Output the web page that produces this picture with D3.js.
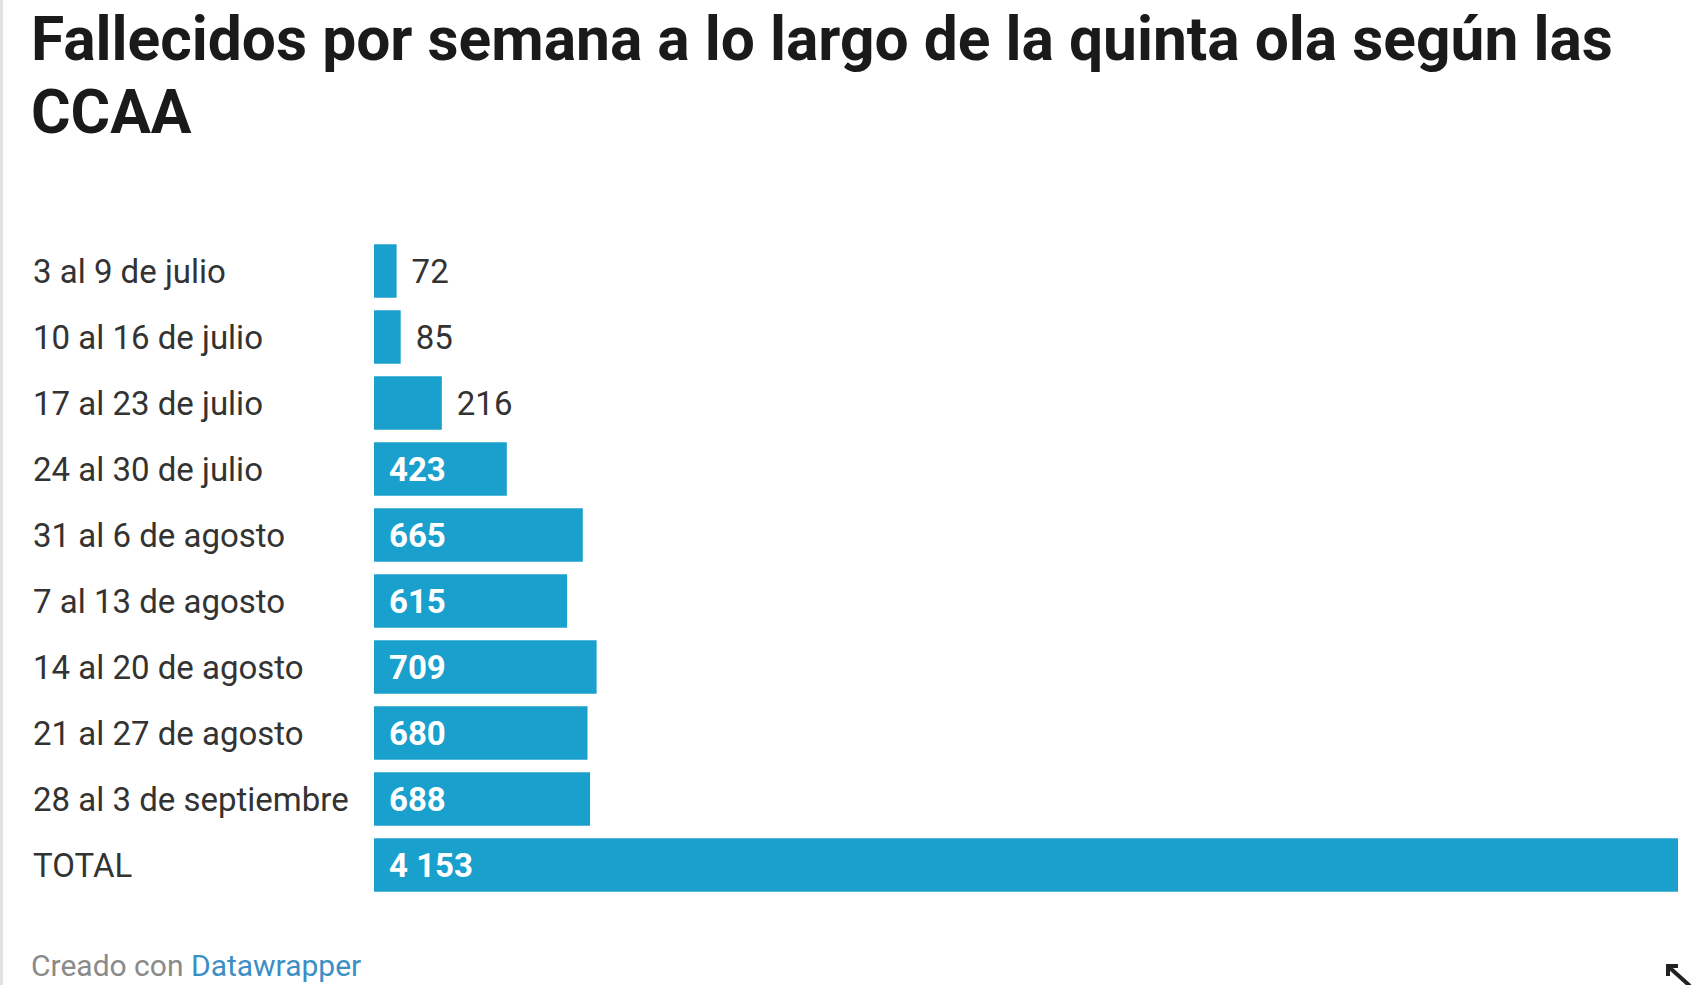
<!DOCTYPE html>
<html>
<head>
<meta charset="utf-8">
<script src="https://cdn.jsdelivr.net/npm/d3@7"></script>
<style>
  body { margin: 0; background: #fff; }
  #container { width: 1706px; height: 985px; }
</style>
</head>
<body>
<div id="container"></div>
<script>
const weeks = ["3 al 9 de julio", "10 al 16 de julio", "17 al 23 de julio", "24 al 30 de julio",
    "31 al 6 de agosto", "7 al 13 de agosto", "14 al 20 de agosto", "21 al 27 de agosto",
    "28 al 3 de septiembre", "TOTAL"];
const deaths = [72, 85, 216, 423, 665, 615, 709, 680, 688, 4153];
const titleLines = ["Fallecidos por semana a lo largo de la quinta ola según las", "CCAA"];

const width = 1706;
const height = 985;
const margin = {top: 238, right: 28, bottom: 87, left: 374};
const barColor = "#1aa0cd";
const font = "Roboto, 'Open Sans', sans-serif";

const data = weeks.map((w, i) => ({week: w, value: deaths[i]}));

const x = d3.scaleLinear()
    .domain([0, d3.max(deaths)])
    .range([margin.left, width - margin.right]);

const y = d3.scaleBand()
    .domain(weeks)
    .range([margin.top, height - margin.bottom])
    .paddingInner(0.19)
    .paddingOuter(0.095);

const fmt = d3.formatLocale({decimal: ",", thousands: "\u00a0", grouping: [3], currency: ["", " €"]}).format(",d");

const svg = d3.select("#container").append("svg")
    .attr("width", width)
    .attr("height", height)
    .style("font-family", font);

// thin grey edge on the left of the embed
svg.append("rect")
    .attr("x", 0).attr("y", 0)
    .attr("width", 3).attr("height", height)
    .attr("fill", "#e2e2e2");

svg.append("g")
    .selectAll("text")
    .data(titleLines)
    .join("text")
    .attr("x", 31)
    .attr("y", (d, i) => 60 + i * 73)
    .attr("font-size", 60.5)
    .attr("font-weight", 700)
    .attr("fill", "#1a1a1a")
    .text(d => d);

svg.append("g")
    .selectAll("rect")
    .data(data)
    .join("rect")
    .attr("x", x(0))
    .attr("y", d => y(d.week))
    .attr("width", d => x(d.value) - x(0))
    .attr("height", y.bandwidth())
    .attr("fill", barColor);

svg.append("g")
    .selectAll("text")
    .data(data)
    .join("text")
    .attr("x", 33)
    .attr("y", d => y(d.week) + y.bandwidth() / 2)
    .attr("dy", "0.36em")
    .attr("font-size", 33)
    .attr("fill", "#333")
    .text(d => d.week);

const inside = d => x(d.value) - x(0) > 100;

svg.append("g")
    .selectAll("text")
    .data(data)
    .join("text")
    .attr("x", d => inside(d) ? x(0) + 15 : x(d.value) + 15)
    .attr("y", d => y(d.week) + y.bandwidth() / 2)
    .attr("dy", "0.36em")
    .attr("font-size", 33)
    .attr("font-weight", d => inside(d) ? 700 : 400)
    .attr("fill", d => inside(d) ? "#fff" : "#333")
    .text(d => fmt(d.value));

const foot = svg.append("text")
    .attr("x", 31)
    .attr("y", 976)
    .attr("font-size", 30)
    .attr("fill", "#8a8a8a");
foot.append("tspan").text("Creado con ");
foot.append("tspan").attr("fill", "#3b8fc4").text("Datawrapper");

// resize handle in the corner
const handle = svg.append("g")
    .attr("transform", "translate(1668,966)")
    .attr("stroke", "#222")
    .attr("stroke-width", 4)
    .attr("fill", "none");
handle.append("path").attr("d", "M2,2 L22,20");
handle.append("path").attr("d", "M0,10 L0,0 L10,0").attr("stroke-width", 4);
</script>
</body>
</html>
